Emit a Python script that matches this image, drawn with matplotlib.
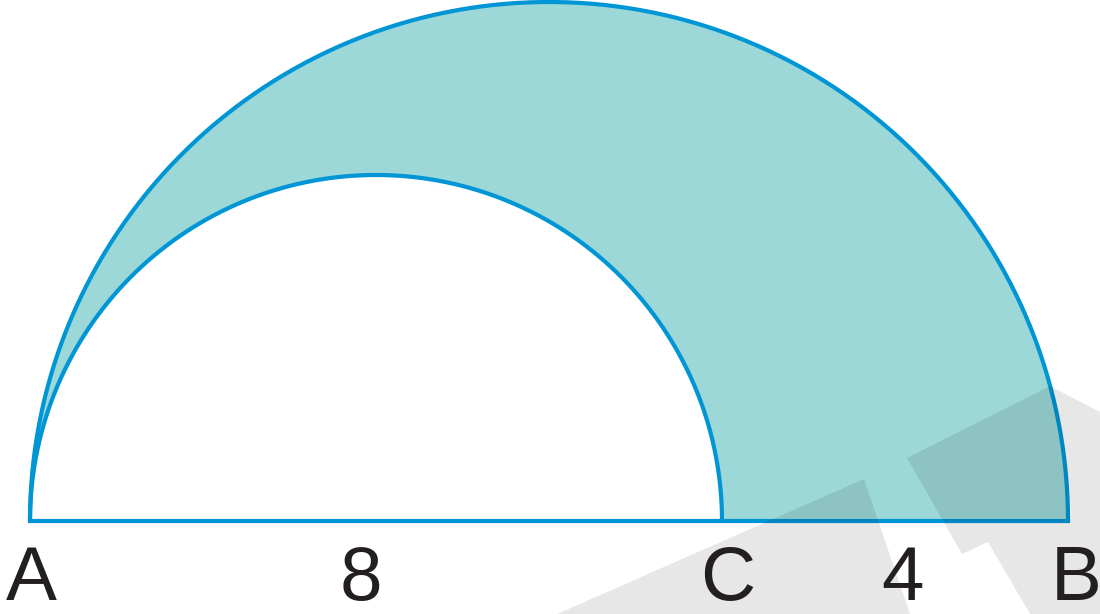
import numpy as np
import matplotlib

matplotlib.use("Agg")
import matplotlib.pyplot as plt  # noqa: E402
from matplotlib.patches import Polygon  # noqa: E402

# points on the diameter
point_names = ["A", "C", "B"]
point_x = [0.0, 8.0, 12.0]

# labels under the baseline (text, x position)
label_text = ["A", "8", "C", "4", "B"]
label_x = [0.02, 3.83, 8.07, 10.09, 12.1]

# grey scan marks in the corner (image pixel coords)
mark_left_px = [(557, 614), (864, 479), (910, 614)]
mark_right_px = [(907, 458), (1050, 386), (1100, 412), (1100, 614),
                 (1030, 614), (988, 542), (962, 554)]

LINE = "#0096d6"
FILL = "#9dd8d8"

PX = 1038 / 12.0  # pixels per unit
X0, Y0 = 30, 521  # pixel position of A


def px2data(pts):
    return [((x - X0) / PX, (Y0 - y) / PX) for x, y in pts]


a, c, b = point_x
big_c, big_r = (a + b) / 2, (b - a) / 2
small_c, small_r = (a + c) / 2, (c - a) / 2

t = np.linspace(0, np.pi, 400)
big_x = big_c + big_r * np.cos(t)
big_y = big_r * np.sin(t)
small_x = small_c + small_r * np.cos(t[::-1])
small_y = small_r * np.sin(t[::-1])

fig = plt.figure(figsize=(11, 6.14), dpi=100)
ax = fig.add_axes([0, 0, 1, 1])
ax.set_xlim(-X0 / PX, (1100 - X0) / PX)
ax.set_ylim(-(614 - Y0) / PX, Y0 / PX)
ax.set_aspect("equal")
ax.axis("off")

# shaded region between the two semicircles
ring_x = np.concatenate([big_x, small_x, [b]])
ring_y = np.concatenate([big_y, small_y, [0]])
ax.fill(ring_x, ring_y, color=FILL, lw=0, zorder=1)

ax.plot(big_x, big_y, color=LINE, lw=3, zorder=2, solid_capstyle="butt")
ax.plot(small_x, small_y, color=LINE, lw=3, zorder=2, solid_capstyle="butt")
ax.plot([a, b], [0, 0], color=LINE, lw=3, zorder=2, solid_capstyle="projecting")

for pts in (mark_left_px, mark_right_px):
    ax.add_patch(Polygon(px2data(pts), closed=True, facecolor="black",
                         alpha=0.095, lw=0, zorder=3))

for txt, x in zip(label_text, label_x):
    ax.text(x, -(600 - Y0) / PX, txt, fontsize=55, family="Liberation Sans",
            ha="center", va="baseline", color="#231f20", zorder=4)

fig.savefig("out.png", dpi=100)
